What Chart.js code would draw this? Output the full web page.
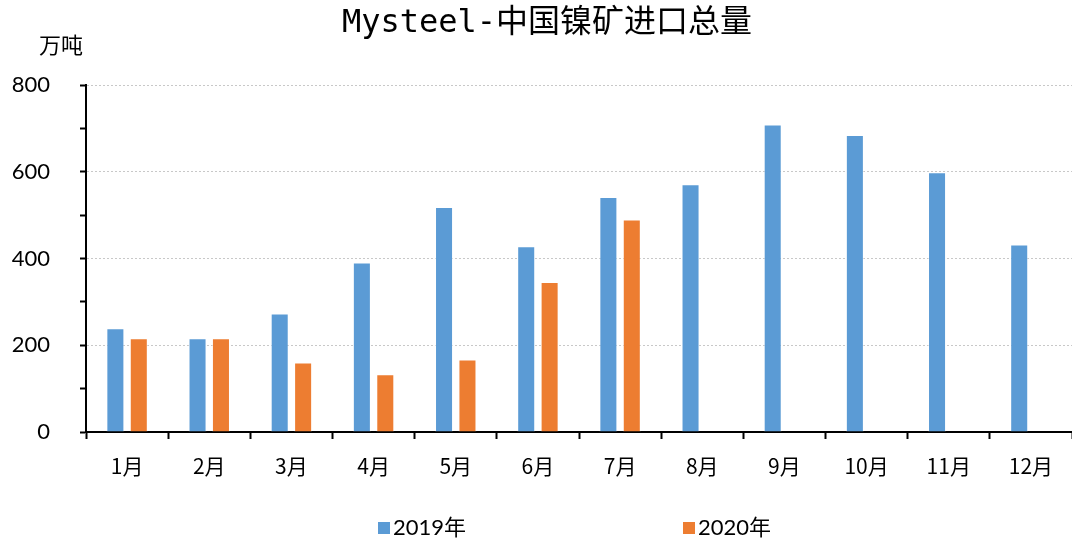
<!DOCTYPE html>
<html>
<head>
<meta charset="utf-8">
<script src="https://cdn.jsdelivr.net/npm/chart.js@4.4.1/dist/chart.umd.min.js"></script>
<style>
  html, body { margin: 0; padding: 0; background: #fff; }
  #wrap { width: 1072px; height: 543px; }
</style>
</head>
<body>
<div id="wrap"><canvas id="chart_nickel" width="1072" height="543"></canvas></div>
<script>
const months = ['1月', '2月', '3月', '4月', '5月', '6月', '7月', '8月', '9月', '10月', '11月', '12月']
const imports2019 = [239, 216, 273, 391, 519, 428, 542, 571, 709, 685, 599, 432]
const imports2020 = [216, 216, 160, 133, 167, 346, 490, null, null, null, null, null]
const seriesNames = ['2019年', '2020年']
const seriesColors = ['#5b9bd5', '#ed7d31']
const titleText = 'Mysteel-中国镍矿进口总量'
const unitText = '万吨'

// title, unit and spread-out legend are drawn by hand
const extras = {
    id: 'extras',
    afterDraw(chart) {
        const ctx = chart.ctx
        ctx.save()
        ctx.fillStyle = '#000'
        ctx.textBaseline = 'middle'
        ctx.textAlign = 'center'
        ctx.font = '32px "DejaVu Sans Mono", "Noto Sans CJK SC"'
        ctx.fillText(titleText, 547, 24)
        ctx.font = '22px "Noto Sans CJK SC"'
        ctx.fillText(unitText, 61, 45)

        // legend
        ctx.textAlign = 'left'
        ctx.font = '22px Lato, "Noto Sans CJK SC"'
        const legendX = [378, 683]
        chart.data.datasets.forEach((ds, i) => {
            ctx.fillStyle = ds.backgroundColor
            ctx.fillRect(legendX[i], 522, 12, 12)
            ctx.fillStyle = '#000'
            ctx.fillText(ds.label, legendX[i] + 15, 528)
        })
        ctx.restore()
    }
}

const config = {
    type: 'bar',
    data: {
        labels: months,
        datasets: [{
            label: seriesNames[0],
            data: imports2019,
            backgroundColor: seriesColors[0],
            borderColor: 'rgba(255,255,255,0.45)',
            borderWidth: 1
        }, {
            label: seriesNames[1],
            data: imports2020,
            backgroundColor: seriesColors[1],
            borderColor: 'rgba(255,255,255,0.45)',
            borderWidth: 1
        }]
    },
    options: {
        responsive: false,
        animation: false,
        devicePixelRatio: 1,
        barPercentage: 0.77,
        categoryPercentage: 0.57,
        layout: {
            padding: { top: 85, right: 0, left: 0, bottom: 0 }
        },
        plugins: {
            legend: { display: false },
            title: { display: false },
            tooltip: { enabled: false }
        },
        scales: {
            x: {
                afterFit: (scale) => { scale.height = 111 },
                border: { color: '#000', width: 2 },
                grid: {
                    offset: true,
                    drawOnChartArea: false,
                    tickLength: 7,
                    tickColor: '#000',
                    tickWidth: 2
                },
                ticks: {
                    color: '#000',
                    padding: 14,
                    maxRotation: 0,
                    font: { family: '"Noto Sans CJK SC"', size: 21 }
                }
            },
            y: {
                min: 0,
                max: 800,
                afterFit: (scale) => { scale.width = 86 },
                border: { color: '#000', width: 2, dash: [2, 2] },
                grid: {
                    color: (c) => (c.tick && c.tick.value > 0 && c.tick.value % 200 === 0) ? '#c8c8c8' : 'rgba(0,0,0,0)',
                    lineWidth: 1,
                    tickBorderDash: [],
                    tickLength: 6,
                    tickColor: '#000',
                    tickWidth: 2
                },
                ticks: {
                    stepSize: 100,
                    color: '#000',
                    padding: 30,
                    font: { family: 'Lato', size: 22 },
                    callback: (v) => v % 200 === 0 ? v : ''
                }
            }
        }
    },
    plugins: [extras]
}

var ctx = document.getElementById('chart_nickel').getContext('2d')
window.nickelChart = new Chart(ctx, config)
</script>
</body>
</html>
